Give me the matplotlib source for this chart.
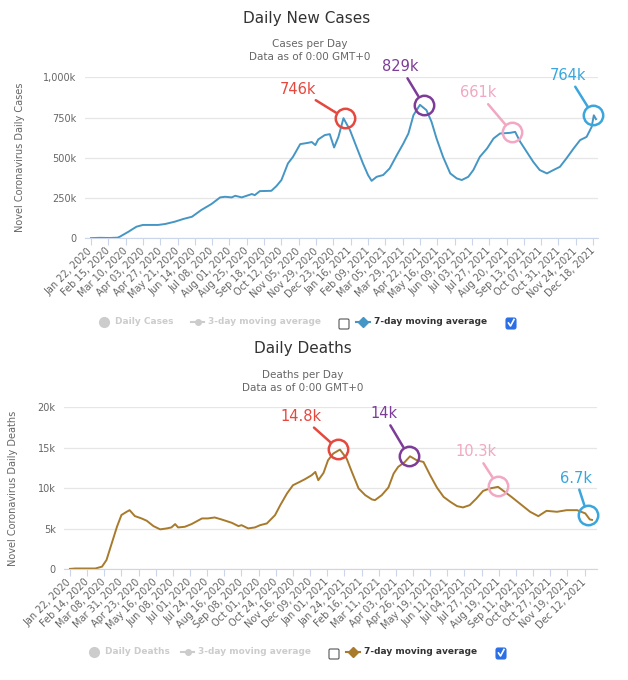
import numpy as np
import pandas as pd
import matplotlib.pyplot as plt
from matplotlib.lines import Line2D
from matplotlib.patches import FancyBboxPatch

plt.rcParams['font.family'] = ['DejaVu Sans']

start = pd.Timestamp('2020-01-22')

# daily new cases, 7-day moving average (thousands), days since Jan 22 2020
case_day = [0, 12, 26, 37, 40, 52, 63, 72, 93, 103, 116, 128, 140, 153, 167, 179, 186, 195, 200, 209,
            223, 227, 234, 250, 257, 264, 273, 280, 290, 301, 306, 311, 315, 324, 331, 337, 343, 350, 359, 368,
            377, 384, 389, 396, 405, 414, 424, 433, 440, 447, 456, 465, 472, 479, 488, 498, 507, 514, 523, 530,
            539, 549, 558, 567, 581, 588, 595, 604, 613, 622, 632, 641, 650, 659, 669, 678, 687, 694, 697, 700]
case_k = [1, 3, 2, 4, 10, 41, 72, 83, 83, 89, 103, 120, 134, 176, 213, 254, 258, 254, 264, 254,
          275, 268, 293, 295, 324, 362, 465, 506, 585, 593, 598, 579, 614, 641, 647, 564, 630, 746, 672, 568,
          465, 393, 357, 382, 393, 434, 517, 589, 651, 765, 829, 796, 724, 620, 506, 403, 372, 362, 382, 424,
          506, 558, 620, 651, 655, 661, 599, 537, 475, 424, 403, 424, 444, 496, 558, 610, 630, 692, 764, 740]

# daily deaths, 7-day moving average (thousands)
death_day = [0, 7, 34, 43, 49, 56, 63, 69, 76, 80, 87, 96, 103, 112, 121, 130, 136, 141, 145, 154,
             163, 177, 185, 194, 203, 217, 226, 230, 239, 248, 255, 264, 275, 282, 291, 299, 308, 315, 324, 329,
             333, 340, 346, 353, 362, 371, 378, 387, 396, 405, 409, 418, 427, 434, 440, 449, 456, 465, 474, 483,
             492, 501, 510, 519, 527, 536, 545, 554, 563, 574, 583, 592, 603, 617, 628, 639, 653, 666, 680, 691,
             697, 700]
death_k = [0.05, 0.1, 0.1, 0.33, 1.15, 3.2, 5.25, 6.7, 7.1, 7.3, 6.57, 6.28, 5.99, 5.33, 4.93, 5.05, 5.17, 5.58, 5.17, 5.25,
           5.58, 6.28, 6.28, 6.4, 6.16, 5.74, 5.33, 5.45, 5.05, 5.17, 5.45, 5.66, 6.69, 7.92, 9.36, 10.38, 10.79, 11.12, 11.61, 12.02,
           11.0, 11.9, 13.46, 14.29, 14.78, 13.67, 12.02, 9.98, 9.15, 8.62, 8.54, 9.15, 10.1, 11.82, 12.64, 13.25, 13.95, 13.46, 13.25, 11.61,
           10.1, 8.94, 8.33, 7.8, 7.64, 7.92, 8.74, 9.68, 9.98, 10.18, 9.56, 8.94, 8.13, 7.1, 6.56, 7.22, 7.1, 7.3, 7.3, 6.9,
           6.16, 6.1]

# hand-drawn peak annotations
mark_colors = ['#e5483e', '#7d3c98', '#f2a7c3', '#3aa6dd']
case_peak_day = [352, 461, 583, 696]
case_peak_k = [746, 829, 661, 764]
case_peak_lab = ['746k', '829k', '661k', '764k']
death_peak_day = [360, 454, 574, 694]
death_peak_k = [14.8, 14.0, 10.3, 6.7]
death_peak_lab = ['14.8k', '14k', '10.3k', '6.7k']

case_yticks = [0, 250, 500, 750, 1000]
case_ylabels = ['0', '250k', '500k', '750k', '1,000k']
death_yticks = [0, 5, 10, 15, 20]
death_ylabels = ['0', '5k', '10k', '15k', '20k']

W, H = 628, 680
fig = plt.figure(figsize=(W / 100, H / 100), dpi=100)


def fx(x):
    return x / W


def fy(y):
    return 1 - y / H


def setup(ax, step, yticks, ylabels, ytitle):
    for s in ['top', 'right', 'left']:
        ax.spines[s].set_visible(False)
    ax.spines['bottom'].set_color('#ccd6eb')
    ax.set_yticks(yticks)
    ax.set_yticklabels(ylabels)
    ax.tick_params(axis='y', length=0, labelsize=7, labelcolor='#666666', pad=6)
    ax.grid(axis='y', color='#e6e6e6', lw=0.9)
    ax.set_axisbelow(True)
    ticks = list(range(0, 700, step))
    ax.set_xticks(ticks)
    labs = [(start + pd.Timedelta(days=d)).strftime('%b %d, %Y') for d in ticks]
    ax.set_xticklabels(labs, rotation=45, ha='right', va='center', rotation_mode='anchor')
    ax.tick_params(axis='x', length=5, color='#ccd6eb', labelsize=7, labelcolor='#666666', pad=3)
    ax.set_ylabel(ytitle, fontsize=7, color='#666666')
    ax.set_ylim(0, yticks[-1])


def annotate(ax, days, vals, labs, offs):
    for d, v, lab, c, (dx, dy) in zip(days, vals, labs, mark_colors, offs):
        ax.plot(d, v, 'o', ms=14, mfc='none', mec=c, mew=1.8, clip_on=False, zorder=5)
        ax.annotate(lab, xy=(d, v), xytext=(dx * 0.72, dy * 0.72), textcoords='offset points',
                    ha='center', va='center', color=c, fontsize=10.5,
                    arrowprops=dict(arrowstyle='-', color=c, lw=1.8, shrinkA=1, shrinkB=7.5))


def legend(y, first, line_color, marker, x0):
    grey = '#cccccc'
    fs = 6.5
    fig.add_artist(Line2D([fx(x0)], [fy(y)], marker='o', ms=7, color=grey, transform=fig.transFigure))
    fig.text(fx(x0 + 11), fy(y), first, fontsize=fs, fontweight='bold', color=grey, va='center')
    fig.add_artist(Line2D([fx(x0 + 87), fx(x0 + 100)], [fy(y), fy(y)], lw=1.5, color=grey,
                          transform=fig.transFigure))
    fig.add_artist(Line2D([fx(x0 + 93.5)], [fy(y)], marker='o', ms=4, color=grey, transform=fig.transFigure))
    fig.text(fx(x0 + 104), fy(y), '3-day moving average', fontsize=fs, fontweight='bold', color=grey, va='center')
    fig.add_artist(FancyBboxPatch((fx(x0 + 235), fy(y + 7)), fx(10), 10 / H,
                                  boxstyle='round,pad=0,rounding_size=0.002', fc='white', ec='#555555', lw=0.8,
                                  transform=fig.transFigure))
    fig.add_artist(Line2D([fx(x0 + 252), fx(x0 + 266)], [fy(y), fy(y)], lw=1.5, color=line_color,
                          transform=fig.transFigure))
    fig.add_artist(Line2D([fx(x0 + 259)], [fy(y)], marker=marker, ms=5, color=line_color,
                          transform=fig.transFigure))
    fig.text(fx(x0 + 270), fy(y), '7-day moving average', fontsize=fs, fontweight='bold', color='#333333',
             va='center')
    fig.add_artist(FancyBboxPatch((fx(x0 + 402), fy(y + 7)), fx(10), 11 / H,
                                  boxstyle='round,pad=0,rounding_size=0.003', fc='#2b6fe6', ec='#2b6fe6', lw=0.8,
                                  transform=fig.transFigure))
    fig.add_artist(Line2D([fx(x0 + 404.5), fx(x0 + 406.5), fx(x0 + 410)], [fy(y + 1), fy(y + 4), fy(y - 2.5)],
                          lw=1.2, color='white', transform=fig.transFigure))


# ---- Daily New Cases ----
ax1 = fig.add_axes([fx(85), fy(238.3), fx(598 - 85), (238.3 - 77.3) / H])
ax1.plot(case_day, case_k, color='#4596c4', lw=1.4)
ax1.set_xlim(-8.3, 702.8)
setup(ax1, 24, case_yticks, case_ylabels, 'Novel Coronavirus Daily Cases')
ax1.yaxis.set_label_coords(fx(25 - 85) / fx(598 - 85), 0.5)
annotate(ax1, case_peak_day, case_peak_k, case_peak_lab, [(-47, 29), (-23, 38), (-33, 39), (-25, 40)])
fig.text(fx(307), fy(19), 'Daily New Cases', ha='center', va='center', fontsize=11, color='#333333')
fig.text(fx(310), fy(44), 'Cases per Day', ha='center', va='center', fontsize=7.5, color='#666666')
fig.text(fx(310), fy(57), 'Data as of 0:00 GMT+0', ha='center', va='center', fontsize=7.5, color='#666666')
legend(322, 'Daily Cases', '#4596c4', 'D', 104)

# ---- Daily Deaths ----
ax2 = fig.add_axes([fx(64), fy(569.3), fx(597 - 64), (569.3 - 407.3) / H])
ax2.plot(death_day, death_k, color='#a77a2c', lw=1.4)
ax2.set_xlim(-8, 706.7)
setup(ax2, 23, death_yticks, death_ylabels, 'Novel Coronavirus Daily Deaths')
ax2.yaxis.set_label_coords(fx(18 - 64) / fx(597 - 64), 0.5)
annotate(ax2, death_peak_day, death_peak_k, death_peak_lab, [(-37, 33), (-25, 42), (-22, 34), (-12, 37)])
fig.text(fx(303), fy(349), 'Daily Deaths', ha='center', va='center', fontsize=11, color='#333333')
fig.text(fx(303), fy(375), 'Deaths per Day', ha='center', va='center', fontsize=7.5, color='#666666')
fig.text(fx(303), fy(388), 'Data as of 0:00 GMT+0', ha='center', va='center', fontsize=7.5, color='#666666')
legend(652, 'Daily Deaths', '#a77a2c', 'D', 94)

fig.savefig('out.png', dpi=100, facecolor='white')
